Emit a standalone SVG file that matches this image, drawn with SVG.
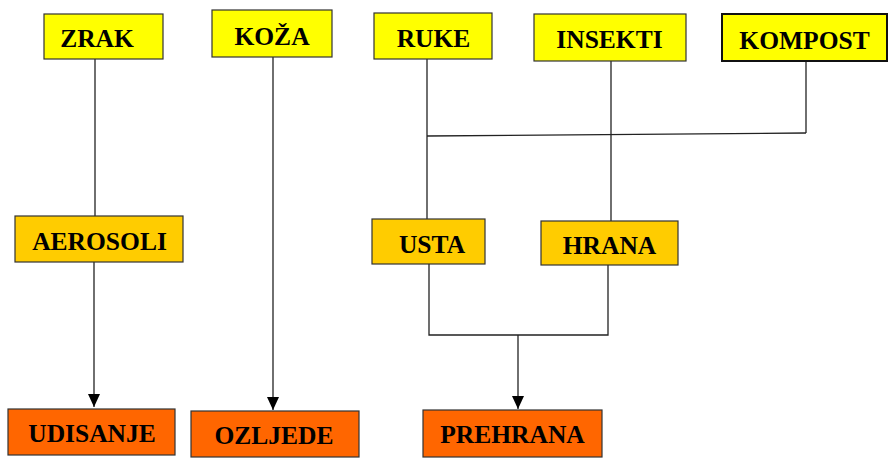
<svg xmlns="http://www.w3.org/2000/svg" width="889" height="461" viewBox="0 0 889 461">
<defs>
<marker id="arr" markerWidth="13" markerHeight="12" refX="13" refY="6" orient="auto" markerUnits="userSpaceOnUse" viewBox="0 0 13 12">
<path d="M0,0 L13,6 L0,12 Z" fill="#000"/>
</marker>
</defs>
<style>
.n rect{stroke:#333;stroke-width:1.2}
.y rect{fill:#FFFF00}
.g rect{fill:#FFCC00}
.o rect{fill:#FF6600}
.n text{font-family:"Liberation Serif","Times New Roman",serif;font-weight:bold;font-size:25.5px;fill:#000;text-anchor:middle}
.c path{fill:none;stroke:#222;stroke-width:1.3}
</style>
<rect width="889" height="461" fill="#fff"/>
<g class="c">
<path d="M95,59 V216"/>
<path d="M94,262 V407" marker-end="url(#arr)"/>
<path d="M273,57 V410" marker-end="url(#arr)"/>
<path d="M427,59 V219"/>
<path d="M611,61 V221"/>
<path d="M806,61 V133"/>
<path d="M427,136 L806,133"/>
<path d="M429,264 V335 H608 V265"/>
<path d="M518,335 V409" marker-end="url(#arr)"/>
</g>
<g id="zrak" class="n y"><rect x="44" y="14" width="119" height="45"/><text x="97" y="47">ZRAK</text></g>
<g id="koza" class="n y"><rect x="212" y="10" width="120" height="47"/><text x="272" y="45">KOŽA</text></g>
<g id="ruke" class="n y"><rect x="374" y="13" width="118" height="46"/><text x="433.5" y="47">RUKE</text></g>
<g id="insekti" class="n y"><rect x="534" y="14" width="152" height="47"/><text x="609.5" y="48">INSEKTI</text></g>
<g id="kompost" class="n y"><rect x="722" y="14" width="165" height="47" style="stroke:#111;stroke-width:2"/><text x="804.5" y="49">KOMPOST</text></g>
<g id="aerosoli" class="n g"><rect x="15" y="216" width="168" height="46"/><text x="99.5" y="250">AEROSOLI</text></g>
<g id="usta" class="n g"><rect x="372" y="219" width="113" height="45"/><text x="432" y="253">USTA</text></g>
<g id="hrana" class="n g"><rect x="541" y="221" width="137" height="44"/><text x="609.5" y="254">HRANA</text></g>
<g id="udisanje" class="n o"><rect x="8" y="409" width="167" height="46"/><text x="92" y="442">UDISANJE</text></g>
<g id="ozljede" class="n o"><rect x="191" y="411" width="168" height="46"/><text x="274" y="444">OZLJEDE</text></g>
<g id="prehrana" class="n o"><rect x="423" y="410" width="179" height="47"/><text x="512.5" y="443">PREHRANA</text></g>
</svg>
